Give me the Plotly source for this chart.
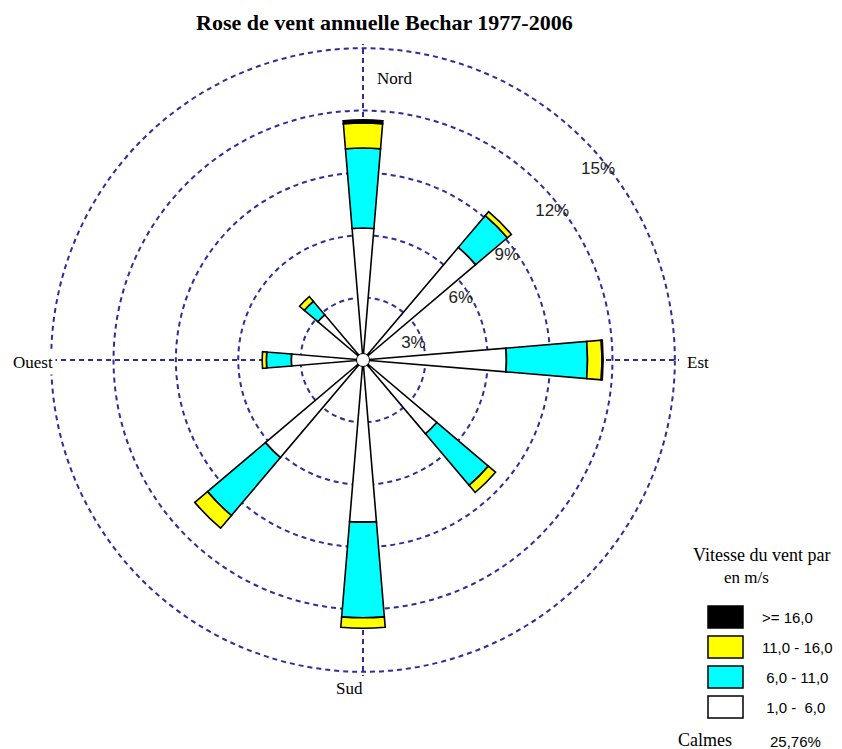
import plotly.graph_objects as go

W, H = 842, 749

# Wind directions (compass degrees, clockwise from north)
directions = ["Nord", "Nord-Est", "Est", "Sud-Est", "Sud", "Sud-Ouest", "Ouest", "Nord-Ouest"]
theta = [0, 45, 90, 135, 180, 225, 270, 315]

# Frequency (%) per speed class
speed_1_6 = [6.35, 7.10, 6.90, 4.65, 7.80, 6.15, 3.45, 2.85]
speed_6_11 = [3.85, 2.00, 3.90, 3.25, 4.60, 3.65, 1.20, 0.85]
speed_11_16 = [1.20, 0.25, 0.70, 0.45, 0.50, 0.80, 0.20, 0.30]
speed_16 = [0.15, 0.00, 0.05, 0.00, 0.00, 0.00, 0.00, 0.00]

class_labels = [">= 16,0", "11,0 - 16,0", " 6,0 - 11,0", " 1,0 -  6,0"]
class_colors = ["#000000", "#ffff00", "#00ffff", "#ffffff"]

ring_values = [3, 6, 9, 12, 15]
ring_labels = ["3%", "6%", "9%", "12%", "15%"]
ring_label_theta = [72, 58, 54, 52, 51]

calm_label = "Calmes"
calm_value = "25,76%"

GRID = "#2e2e96"
SERIF = "Liberation Serif"
SANS = "Liberation Sans"


def px(x):
    return x / W


def py(y):
    return 1 - y / H


fig = go.Figure()

series = [
    (speed_1_6, "#ffffff", "1,0 - 6,0"),
    (speed_6_11, "#00ffff", "6,0 - 11,0"),
    (speed_11_16, "#ffff00", "11,0 - 16,0"),
    (speed_16, "#000000", ">= 16,0"),
]
for vals, col, name in series:
    fig.add_trace(go.Barpolar(
        r=vals, theta=theta, width=9.5, name=name,
        marker=dict(color=col, line=dict(color="#000000", width=1.6)),
        hoverinfo="skip",
    ))

# Ring percentage labels
fig.add_trace(go.Scatterpolar(
    r=[v - 0.45 for v in ring_values], theta=ring_label_theta,
    mode="text", text=ring_labels,
    textfont=dict(family=SANS, size=17, color="#222222"),
    hoverinfo="skip", showlegend=False,
))

# Hub at the centre
fig.add_trace(go.Scatterpolar(
    r=[0], theta=[0], mode="markers",
    marker=dict(size=13, color="#ffffff", line=dict(color="#000000", width=1)),
    hoverinfo="skip", showlegend=False,
))

fig.update_layout(
    width=W, height=H,
    margin=dict(l=0, r=0, t=0, b=0),
    paper_bgcolor="#ffffff",
    showlegend=False,
    barmode="stack",
    polar=dict(
        domain=dict(x=[px(47), px(679)], y=[py(676), py(44)]),
        bgcolor="#ffffff",
        bargap=0,
        radialaxis=dict(
            range=[0, 15.2], tickvals=ring_values, showticklabels=False,
            showline=False, ticks="", gridcolor=GRID, gridwidth=2,
            griddash="5px,4px",
        ),
        angularaxis=dict(
            rotation=90, direction="clockwise", tickvals=[0, 90, 180, 270],
            showticklabels=False, showline=False, ticks="",
            gridcolor=GRID, gridwidth=2, griddash="5px,4px",
        ),
    ),
)

annotations = [
    dict(text="<b>Rose de vent annuelle Bechar 1977-2006</b>", x=px(384), y=py(22),
         font=dict(family=SERIF, size=22, color="#000000")),
    dict(text="Nord", x=px(394), y=py(78), font=dict(family=SERIF, size=17)),
    dict(text="Est", x=px(698), y=py(362), font=dict(family=SERIF, size=17)),
    dict(text="Sud", x=px(349), y=py(688), font=dict(family=SERIF, size=17)),
    dict(text="Ouest", x=px(10), y=py(362), xanchor="left", bgcolor="#ffffff",
         borderpad=2, font=dict(family=SERIF, size=17)),
    dict(text="Vitesse du vent par", x=px(761), y=py(555), font=dict(family=SERIF, size=18)),
    dict(text="en m/s", x=px(746), y=py(577), font=dict(family=SERIF, size=17)),
    dict(text=calm_label, x=px(676), y=py(740), xanchor="left", font=dict(family=SERIF, size=18)),
    dict(text=calm_value, x=px(768), y=py(741), xanchor="left", font=dict(family=SANS, size=15)),
]

shapes = []
box_tops = [606, 636, 666, 696]
for lab, col, top in zip(class_labels, class_colors, box_tops):
    shapes.append(dict(type="rect", xref="paper", yref="paper",
                       x0=px(708), x1=px(743), y0=py(top + 22), y1=py(top),
                       fillcolor=col, line=dict(color="#000000", width=1.5)))
    annotations.append(dict(text=lab.replace(" ", "&nbsp;"), x=px(760), y=py(top + 11),
                            xanchor="left", font=dict(family=SANS, size=15)))

for a in annotations:
    a.setdefault("xref", "paper")
    a.setdefault("yref", "paper")
    a.setdefault("showarrow", False)
    a.setdefault("xanchor", "center")
    a.setdefault("yanchor", "middle")
    a["font"].setdefault("color", "#000000")

fig.update_layout(annotations=annotations, shapes=shapes)

fig.write_html("out.html")
